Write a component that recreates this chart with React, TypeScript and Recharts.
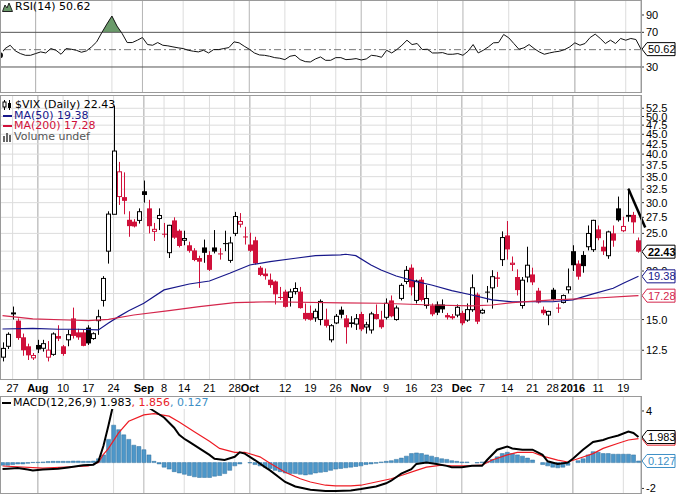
import React from "react";
import {
  ComposedChart, Bar, Line, Area, XAxis, YAxis, CartesianGrid, ReferenceLine,
} from "recharts";

const W = 676;
const PLOT_W = 641;
const AXIS_W = W - PLOT_W;
const RED = "#d0103a";
const NAVY = "#17178a";
const MA200_RED = "#d4264c";
const HIST_BLUE = "#4d97c9";
const VERDANA = "'DejaVu Sans', Verdana, sans-serif";
const ARIAL = "'Liberation Sans', Arial, sans-serif";

// panel layout (pixels)
const RSI_TOP = 0, RSI_H = 93;
const MAIN_TOP = 95, MAIN_H = 285, DATE_H = 16;
const MACD_TOP = 396, MACD_H = 98;

// trading days, Jul 23 2015 .. Jan 22 2016
const julDays = [23, 24, 27, 28, 29, 30, 31];
const augDays = [3, 4, 5, 6, 7, 10, 11, 12, 13, 14, 17, 18, 19, 20, 21, 24, 25, 26, 27, 28, 31];
const sepDays = [1, 2, 3, 4, 8, 9, 10, 11, 14, 15, 16, 17, 18, 21, 22, 23, 24, 25, 28, 29, 30];
const octDays = [1, 2, 5, 6, 7, 8, 9, 12, 13, 14, 15, 16, 19, 20, 21, 22, 23, 26, 27, 28, 29, 30];
const novDays = [2, 3, 4, 5, 6, 9, 10, 11, 12, 13, 16, 17, 18, 19, 20, 23, 24, 25, 27, 30];
const decDays = [1, 2, 3, 4, 7, 8, 9, 10, 11, 14, 15, 16, 17, 18, 21, 22, 23, 24, 28, 29, 30, 31];
const janDays = [4, 5, 6, 7, 8, 11, 12, 13, 14, 15, 19, 20, 21, 22];

const dates = [
  ...julDays.map((d) => `Jul ${d}`),
  ...augDays.map((d) => `Aug ${d}`),
  ...sepDays.map((d) => `Sep ${d}`),
  ...octDays.map((d) => `Oct ${d}`),
  ...novDays.map((d) => `Nov ${d}`),
  ...decDays.map((d) => `Dec ${d}`),
  ...janDays.map((d) => `Jan ${d}`),
];

const tickDates = ["Jul 27", "Aug 3", "Aug 10", "Aug 17", "Aug 24", "Sep 1", "Sep 8", "Sep 14", "Sep 21", "Sep 28",
  "Oct 1", "Oct 12", "Oct 19", "Oct 26", "Nov 2", "Nov 9", "Nov 16", "Nov 23", "Dec 1", "Dec 7", "Dec 14",
  "Dec 21", "Dec 28", "Jan 4", "Jan 11", "Jan 19"];
const tickLabels = ["27", "Aug", "10", "17", "24", "Sep", "8", "14", "21", "28", "Oct", "12", "19", "26", "Nov",
  "9", "16", "23", "Dec", "7", "14", "21", "28", "2016", "11", "19"];
const monthDates = ["Aug 3", "Sep 1", "Oct 1", "Nov 2", "Dec 1", "Jan 4"];

// $VIX daily OHLC
const opens = [
  12.0, 12.8, 15.55, 14.9, 13.5, 12.8, 11.95,
  12.9, 12.65, 12.0, 12.2, 13.6, 12.8, 13.3, 15.1, 13.9, 13.9, 14.3, 13.4, 14.9, 16.8, 22.5, 28.0, 31.1, 31.0, 27.1, 26.8, 27.0,
  32.1, 29.0, 25.3, 27.3, 24.95, 22.3, 27.0, 25.4, 24.0, 23.3, 22.6, 21.6, 23.0, 22.0, 23.0, 22.2, 23.6, 21.3, 25.0, 26.4, 24.55,
  23.4, 24.0, 20.4, 19.7, 19.0, 18.8, 17.15, 17.7, 17.1, 17.7, 17.7, 15.6, 15.6, 15.15, 15.0, 15.0, 13.3, 14.7, 15.9, 15.1, 14.75, 14.6,
  15.5, 14.35, 14.1, 15.5, 15.0, 15.2, 16.8, 15.0, 17.0, 18.8, 20.4, 16.8, 19.0, 16.3, 16.3, 16.4, 16.4, 15.4, 15.3, 15.4,
  15.6, 14.95, 15.9, 17.4, 15.6, 17.7, 18.1, 19.25, 21.4, 24.7, 20.8, 19.3, 16.3, 19.3, 19.6, 17.8, 15.9, 15.4, 17.9, 16.1, 16.6, 17.9,
  22.5, 20.9, 22.0, 23.1, 22.7, 25.6, 23.1, 21.9, 25.0, 29.0, 25.4, 27.9, 27.9, 24.0,
];
const highs = [
  13.1, 13.9, 16.2, 15.1, 13.8, 13.0, 12.3,
  13.3, 13.3, 13.2, 13.9, 14.5, 12.9, 14.1, 16.1, 14.2, 14.1, 14.5, 13.9, 15.9, 19.4, 28.5, 53.3, 38.2, 35.9, 28.5, 27.2, 29.0,
  34.2, 30.5, 26.6, 29.0, 26.6, 26.3, 27.5, 25.6, 25.4, 23.8, 22.9, 21.9, 24.1, 22.5, 25.5, 22.9, 25.4, 24.5, 28.4, 28.2, 26.0,
  25.1, 24.5, 20.6, 20.3, 19.7, 18.9, 18.2, 17.9, 18.0, 18.7, 18.2, 16.5, 16.3, 16.0, 16.9, 16.0, 14.6, 15.5, 16.2, 15.4, 15.3, 15.5,
  15.7, 14.8, 15.7, 16.4, 15.8, 17.0, 17.3, 16.3, 18.6, 20.6, 20.8, 19.0, 19.3, 18.4, 16.5, 16.7, 16.9, 15.6, 15.5, 16.4,
  15.8, 16.5, 19.6, 17.6, 16.0, 18.3, 20.1, 19.9, 25.3, 26.9, 21.8, 20.2, 19.3, 23.1, 20.4, 18.1, 16.2, 15.8, 18.1, 16.5, 17.4, 20.3,
  23.3, 21.3, 22.5, 26.2, 27.1, 26.2, 24.0, 25.4, 26.2, 31.1, 27.6, 32.6, 28.4, 24.4,
];
const lows = [
  11.7, 12.6, 15.0, 13.3, 12.1, 11.8, 11.8,
  12.3, 12.4, 11.7, 12.1, 13.2, 12.1, 12.8, 13.4, 13.3, 12.8, 12.9, 13.3, 13.7, 16.2, 20.9, 28.0, 29.6, 28.0, 24.5, 25.9, 26.5,
  30.0, 25.0, 23.9, 25.5, 24.4, 21.6, 24.2, 23.0, 23.3, 22.3, 21.2, 18.1, 21.0, 20.0, 22.2, 21.4, 22.5, 21.0, 24.6, 25.9, 23.4,
  22.4, 20.8, 19.4, 19.0, 18.1, 16.4, 16.85, 16.1, 16.2, 17.4, 16.0, 14.9, 14.9, 14.8, 14.5, 14.3, 13.1, 14.6, 15.1, 13.0, 14.3, 14.1,
  14.0, 13.8, 13.8, 15.0, 14.2, 15.0, 15.2, 14.9, 16.8, 18.5, 17.3, 16.5, 16.7, 16.0, 15.3, 15.4, 15.6, 15.0, 15.0, 15.2,
  14.5, 14.8, 15.7, 14.6, 15.5, 16.6, 16.0, 18.2, 20.6, 21.4, 20.0, 17.3, 16.0, 18.7, 18.4, 16.5, 15.4, 14.5, 16.8, 15.6, 16.5, 17.5,
  20.0, 19.0, 19.8, 22.6, 22.4, 24.0, 22.0, 21.5, 23.1, 26.8, 25.2, 26.8, 25.0, 22.3,
];
const closes = [
  12.64, 13.74, 15.6, 13.44, 12.5, 12.13, 12.12,
  12.56, 13.0, 12.51, 13.77, 13.39, 12.23, 13.71, 13.61, 13.49, 12.83, 13.02, 13.79, 15.25, 19.14, 28.03, 40.74, 36.02, 30.32, 26.1, 26.05, 28.43,
  31.4, 26.09, 25.61, 27.8, 24.9, 26.23, 24.37, 23.2, 24.25, 22.54, 21.35, 21.14, 22.28, 20.14, 22.44, 22.13, 23.47, 23.62, 27.63, 26.83, 24.5,
  22.55, 20.94, 19.54, 19.4, 18.4, 17.42, 17.08, 16.17, 17.67, 18.03, 16.05, 15.05, 14.98, 15.75, 16.7, 14.45, 14.46, 15.29, 15.43, 14.33, 14.61, 15.07,
  14.15, 14.54, 15.51, 15.05, 14.33, 16.52, 15.29, 16.06, 18.37, 20.08, 18.16, 18.84, 16.85, 16.99, 15.47, 15.62, 15.93, 15.19, 15.12, 16.13,
  14.67, 15.91, 18.11, 14.81, 15.84, 17.6, 19.34, 19.1, 24.39, 22.73, 20.95, 17.86, 18.94, 20.7, 18.7, 16.6, 15.57, 15.74, 16.91, 16.08, 17.29, 18.21,
  20.7, 19.34, 20.59, 24.99, 27.01, 24.3, 22.47, 25.22, 23.95, 27.02, 26.05, 27.59, 26.69, 22.43,
];

// moving averages, read at points along the lines
const ma50Dates = ["Jul 23", "Jul 31", "Aug 7", "Aug 13", "Aug 19", "Aug 21", "Aug 25", "Aug 27", "Sep 1", "Sep 8",
  "Sep 15", "Sep 21", "Sep 25", "Oct 1", "Oct 7", "Oct 14", "Oct 20", "Oct 27", "Oct 28", "Oct 30", "Nov 4", "Nov 6",
  "Nov 11", "Nov 17", "Nov 20", "Nov 27", "Dec 3", "Dec 9", "Dec 15", "Dec 28", "Jan 4", "Jan 8", "Jan 14", "Jan 19", "Jan 22"];
const ma50Values = [14.18, 14.24, 14.16, 14.16, 14.1, 14.7, 15.26, 15.81, 16.52, 17.88,
  18.52, 18.85, 19.73, 20.73, 21.14, 21.57, 21.91, 22.0, 22.09, 21.91, 20.73, 20.12,
  19.42, 18.78, 18.41, 17.8, 17.35, 16.85, 16.67, 16.67, 16.85, 17.46, 18.06, 18.6, 19.38];
const ma200Dates = ["Jul 23", "Jul 31", "Aug 11", "Aug 17", "Aug 21", "Aug 28", "Sep 9", "Sep 17", "Sep 28", "Oct 7",
  "Oct 27", "Nov 6", "Nov 20", "Dec 3", "Dec 9", "Dec 15", "Dec 28", "Jan 8", "Jan 21", "Jan 22"];
const ma200Values = [15.35, 15.05, 14.96, 14.9, 15.02, 15.41, 15.81, 16.19, 16.58, 16.67,
  16.55, 16.52, 16.35, 16.26, 16.35, 16.58, 16.85, 17.02, 17.25, 17.28];

// RSI(14)
const rsi = [
  43.5, 51.3, 55.1, 48.6, 45.5, 43.5, 43.5,
  45.5, 47.4, 46.2, 51.3, 49.3, 44.7, 51.3, 50.5, 49.3, 47.0, 48.6, 53.2, 59.0, 69.5, 79.5, 88.8, 77.2, 68.7, 58.2, 58.2, 60.9,
  64.0, 55.9, 55.1, 58.2, 55.1, 54.4, 53.2, 52.1, 51.3, 49.3, 48.2, 47.4, 49.3, 46.2, 50.1, 50.1, 51.3, 52.4, 59.0, 57.9, 54.0,
  50.5, 46.2, 43.9, 43.5, 42.4, 40.8, 40.1, 38.5, 42.4, 43.5, 38.5, 36.2, 35.8, 39.3, 41.6, 37.7, 37.7, 40.8, 40.8, 38.5, 38.9, 39.7,
  38.1, 39.3, 43.5, 42.8, 41.2, 49.3, 46.2, 50.1, 55.1, 60.9, 55.9, 57.1, 50.1, 50.5, 46.2, 46.2, 46.6, 44.7, 44.7, 45.5,
  43.5, 48.2, 55.9, 46.2, 49.3, 53.2, 57.9, 58.2, 67.5, 63.7, 57.1, 50.5, 52.1, 55.9, 51.3, 47.4, 44.7, 46.2, 47.4, 48.2, 50.1, 53.2,
  57.9, 55.1, 57.1, 64.0, 67.9, 62.9, 57.1, 60.9, 57.1, 62.9, 60.9, 62.9, 61.7, 50.62,
];

// MACD(12,26,9)
const macdDates = ["Jul 23", "Jul 24", "Jul 28", "Jul 30", "Jul 31", "Aug 4", "Aug 7", "Aug 11", "Aug 14", "Aug 18",
  "Aug 19", "Aug 20", "Aug 21", "Aug 24", "Aug 25", "Aug 26", "Aug 27", "Aug 28", "Aug 31", "Sep 1", "Sep 3", "Sep 8",
  "Sep 10", "Sep 11", "Sep 14", "Sep 15", "Sep 17", "Sep 21", "Sep 22", "Sep 24", "Sep 28", "Sep 29", "Sep 30", "Oct 2",
  "Oct 6", "Oct 7", "Oct 12", "Oct 14", "Oct 19", "Oct 22", "Oct 26", "Oct 29", "Nov 2", "Nov 5", "Nov 9", "Nov 10",
  "Nov 12", "Nov 16", "Nov 17", "Nov 19", "Nov 23", "Nov 25", "Nov 27", "Dec 1", "Dec 3", "Dec 7", "Dec 8", "Dec 10",
  "Dec 14", "Dec 15", "Dec 17", "Dec 21", "Dec 23", "Dec 24", "Dec 29", "Dec 31", "Jan 4", "Jan 6", "Jan 8", "Jan 12",
  "Jan 13", "Jan 15", "Jan 20", "Jan 21", "Jan 22"];
const macdValues = [-0.5, -0.47, -0.42, -0.53, -0.6, -0.53, -0.47, -0.37, -0.21, -0.16,
  0.1, 1.3, 2.9, 4.6, 5.2, 5.4, 5.3, 5.1, 4.9, 4.5, 4.0, 3.5,
  2.7, 2.15, 1.85, 1.6, 1.1, 0.6, 0.3, 0.2, 0.45, 0.8, 0.7, 0.2,
  -0.35, -0.6, -1.5, -1.85, -2.1, -2.2, -2.2, -2.15, -2.05, -1.85, -1.6, -1.4,
  -0.85, -0.5, -0.1, 0.0, -0.1, -0.25, -0.35, -0.35, -0.25, -0.25, 0.2, 1.0,
  1.25, 1.1, 1.0, 1.0, 0.6, 0.1, -0.1, 0.0, 0.3, 1.0, 1.6, 1.75,
  1.9, 2.1, 2.4, 2.3, 1.983];
const signalDates = ["Jul 23", "Aug 4", "Aug 17", "Aug 19", "Aug 20", "Aug 21", "Aug 25", "Aug 27", "Sep 1", "Sep 3",
  "Sep 9", "Sep 11", "Sep 16", "Sep 21", "Sep 23", "Sep 28", "Sep 30", "Oct 5", "Oct 7", "Oct 12", "Oct 15", "Oct 19",
  "Oct 22", "Oct 26", "Oct 29", "Nov 2", "Nov 5", "Nov 10", "Nov 12", "Nov 17", "Nov 19", "Nov 24", "Nov 27", "Dec 2",
  "Dec 7", "Dec 9", "Dec 14", "Dec 16", "Dec 21", "Dec 23", "Dec 29", "Dec 31", "Jan 5", "Jan 8", "Jan 12", "Jan 15",
  "Jan 20", "Jan 22"];
const signalValues = [-0.26, -0.42, -0.26, 0.0, 0.65, 1.1, 2.3, 3.2, 3.7, 3.8,
  3.6, 3.15, 2.4, 1.65, 1.1, 0.8, 0.8, 0.45, -0.05, -0.75, -1.25, -1.5,
  -1.75, -1.8, -1.8, -1.75, -1.5, -1.25, -1.0, -0.6, -0.35, -0.2, -0.25, -0.25,
  -0.2, 0.2, 0.6, 0.8, 0.8, 0.5, 0.2, 0.05, 0.3, 0.7, 1.1, 1.5,
  1.75, 1.856];
const histValues = [
  -0.2, -0.2, -0.15, -0.1, -0.1, -0.05, 0.02,
  0.03, 0.05, 0.08, 0.1, 0.1, 0.1, 0.1, 0.12, 0.12, 0.1, 0.1, 0.12, 0.3, 0.6, 1.8, 2.9, 2.55, 2.15, 1.8, 1.35, 1.25,
  1.0, 0.6, 0.1, -0.1, -0.35, -0.5, -0.7, -0.8, -0.9, -1.0, -1.1, -1.15, -1.15, -1.15, -1.05, -1.0, -0.85, -0.6, -0.25, -0.1, 0.0,
  -0.02, -0.15, -0.25, -0.35, -0.45, -0.6, -0.7, -0.8, -0.85, -0.85, -0.9, -0.95, -0.9, -0.8, -0.75, -0.7, -0.6, -0.5, -0.45, -0.4, -0.35, -0.3,
  -0.25, -0.15, -0.1, -0.05, 0.05, 0.1, 0.15, 0.25, 0.35, 0.5, 0.7, 0.75, 0.7, 0.6, 0.5, 0.4, 0.3, 0.25, 0.15, 0.1,
  0.05, 0.05, 0.0, -0.02, 0.05, 0.1, 0.25, 0.45, 0.7, 0.8, 0.7, 0.6, 0.5, 0.35, 0.2, 0.0, -0.15, -0.25, -0.35, -0.4, -0.35, -0.2,
  0.0, 0.15, 0.3, 0.6, 0.85, 0.8, 0.7, 0.7, 0.65, 0.65, 0.65, 0.65, 0.6, 0.127,
];

const priceTicks = [12.5, 15, 17.5, 20, 22.5, 25, 27.5, 30, 32.5, 35, 37.5, 40, 42.5, 45, 47.5, 50, 52.5];
const rsiTicks = [30, 70, 90];
const macdTicks = [4, -2];

type Mark = { value: number; color: string; bold?: boolean };
const priceMarks: Mark[] = [
  { value: 17.28, color: MA200_RED },
  { value: 19.38, color: NAVY },
  { value: 22.43, color: "#000", bold: true },
];
const rsiMarks: Mark[] = [{ value: 50.62, color: "#000" }];
const macdMarks: Mark[] = [
  { value: 1.856, color: "#e8222a" },
  { value: 1.983, color: "#000" },
  { value: 0.127, color: "#3d8fc6" },
];

const PRICE_MIN = 10.48, PRICE_MAX = 56.8;
const RSI_MIN = 0, RSI_MAX = 107.3;
const MACD_MIN = -2.43, MACD_MAX = 5.16;

const rows = dates.map((date, i) => {
  const a = ma50Dates.indexOf(date);
  const b = ma200Dates.indexOf(date);
  const m = macdDates.indexOf(date);
  const s = signalDates.indexOf(date);
  return {
    date,
    open: opens[i],
    high: highs[i],
    low: lows[i],
    close: closes[i],
    prevClose: i > 0 ? closes[i - 1] : null,
    range: [lows[i], highs[i]],
    ma50: a >= 0 ? ma50Values[a] : null,
    ma200: b >= 0 ? ma200Values[b] : null,
    rsi: rsi[i],
    macd: m >= 0 ? macdValues[m] : null,
    signal: s >= 0 ? signalValues[s] : null,
    hist: histValues[i],
  };
});

const Candle = (props: any) => {
  const { x, y, width, height, payload } = props;
  if (!payload || height == null || isNaN(y)) return null;
  const { open, close, high, low, prevClose } = payload;
  const top = Math.min(y, y + height);
  const h = Math.abs(height);
  const span = Math.log(high) - Math.log(low);
  const py = (v: number) => top + (span > 0 ? (h * (Math.log(high) - Math.log(v))) / span : 0);
  const color = prevClose != null && close < prevClose ? RED : "#000";
  const cx = Math.round(x + width / 2) + 0.5;
  const hollow = close > open;
  const yo = py(open);
  const yc = py(close);
  const bTop = Math.min(yo, yc);
  const bH = Math.max(Math.abs(yc - yo), 1);
  return (
    <g>
      <line x1={cx} x2={cx} y1={top} y2={top + h} stroke={color} strokeWidth={1} />
      {hollow ? (
        <rect x={cx - 2} y={bTop} width={4} height={bH} fill="#fff" stroke={color} strokeWidth={1} />
      ) : (
        <rect x={cx - 2.5} y={bTop} width={5} height={bH} fill={color} />
      )}
    </g>
  );
};

const makeYTick = (marks: Mark[], fmt: (v: number) => string) => (props: any) => {
  const { x, y, payload } = props;
  const v = payload.value;
  const m = marks.find((k) => k.value === v);
  if (m) {
    const l = x - 4;
    return (
      <g>
        <polygon
          points={`${l},${y} ${l + 5},${y - 6.5} ${W - 1},${y - 6.5} ${W - 1},${y + 6.5} ${l + 5},${y + 6.5}`}
          fill="#fff" stroke={m.color} strokeWidth={1}
        />
        <text x={l + 6} y={y} dy={4} fill={m.color} fontSize={11} fontWeight={m.bold ? "bold" : "normal"}
          fontFamily={ARIAL}>{String(v)}</text>
      </g>
    );
  }
  return (
    <text x={x} y={y} dy={4} fill="#000" fontSize={11} fontFamily={ARIAL}>{fmt(v)}</text>
  );
};

const DateTick = (props: any) => {
  const { x, y, payload } = props;
  const k = tickDates.indexOf(payload.value);
  const label = k >= 0 ? tickLabels[k] : "";
  const bold = monthDates.includes(payload.value);
  return (
    <text x={x} y={y} dy={12} textAnchor="middle" fill="#000" fontSize={11}
      fontWeight={bold ? "bold" : "normal"} fontFamily={ARIAL}>{label}</text>
  );
};

const frame = (top: number, height: number): React.CSSProperties => ({
  position: "absolute", left: 0, top, width: PLOT_W + 1, height, boxSizing: "border-box",
  border: "1px solid #9a9a9a", pointerEvents: "none",
});

export default function App() {
  const rsi70 = RSI_H * (1 - (70 - RSI_MIN) / (RSI_MAX - RSI_MIN));
  return (
    <div style={{ position: "relative", width: W, height: 495, background: "#fff", overflow: "hidden", fontFamily: VERDANA }}>
      <style>{"body{margin:0}"}</style>

      {/* RSI panel */}
      <div style={{ position: "absolute", left: 0, top: RSI_TOP }}>
        <ComposedChart width={W} height={RSI_H} data={rows} margin={{ top: 0, right: 0, bottom: 0, left: 0 }}>
          <defs>
            <linearGradient id="rsiOver" x1="0" y1="0" x2="0" y2={RSI_H} gradientUnits="userSpaceOnUse">
              <stop offset={0} stopColor="#6a9a6a" />
              <stop offset={rsi70 / RSI_H} stopColor="#6a9a6a" />
              <stop offset={rsi70 / RSI_H + 0.001} stopColor="#6a9a6a" stopOpacity={0} />
              <stop offset={1} stopColor="#6a9a6a" stopOpacity={0} />
            </linearGradient>
          </defs>
          <XAxis dataKey="date" type="category" ticks={tickDates} hide />
          <XAxis dataKey="date" type="category" xAxisId="m" ticks={monthDates} hide />
          <YAxis yAxisId="r" orientation="right" width={AXIS_W} domain={[RSI_MIN, RSI_MAX]} allowDataOverflow
            ticks={[...rsiTicks, ...rsiMarks.map((m) => m.value)]} interval={0}
            axisLine={false} tickSize={3} tickMargin={2} tickLine={{ stroke: "#333" }}
            tick={makeYTick(rsiMarks, (v) => String(v))} />
          <CartesianGrid yAxisId="r" horizontal={false} stroke="#dcdcdc" />
          <CartesianGrid yAxisId="r" xAxisId="m" horizontal={false} stroke="#b4b4b4" />
          <ReferenceLine yAxisId="r" y={70} stroke="#555" />
          <ReferenceLine yAxisId="r" y={30} stroke="#555" />
          <ReferenceLine yAxisId="r" y={50} stroke="#777" strokeDasharray="7 3 2 3" />
          <Area yAxisId="r" dataKey="rsi" baseValue={70} stroke="none" fill="url(#rsiOver)" fillOpacity={1}
            isAnimationActive={false} />
          <Line yAxisId="r" dataKey="rsi" stroke="#111" strokeWidth={1} dot={false} isAnimationActive={false} />
        </ComposedChart>
      </div>
      <div style={frame(RSI_TOP, RSI_H)} />
      <div style={{ position: "absolute", left: 2, top: 1, fontSize: 11, lineHeight: "12px", display: "flex", alignItems: "center" }}>
        <svg width={11} height={10}>
          <polygon points="0.5,9.5 3,3 5,6 7,1 10.5,9.5" fill="#6a9a6a" stroke="#222" strokeWidth={1} />
        </svg>
        <span style={{ marginLeft: 2 }}>RSI(14) 50.62</span>
      </div>

      {/* price panel */}
      <div style={{ position: "absolute", left: 0, top: MAIN_TOP }}>
        <ComposedChart width={W} height={MAIN_H + DATE_H} data={rows} margin={{ top: 0, right: 0, bottom: 0, left: 0 }}>
          <XAxis dataKey="date" type="category" ticks={tickDates} interval={0} height={DATE_H}
            axisLine={false} tickLine={false} tickSize={0} tickMargin={0} tick={<DateTick />} />
          <XAxis dataKey="date" type="category" xAxisId="m" ticks={monthDates} hide />
          <YAxis yAxisId="p" orientation="right" width={AXIS_W} scale="log" domain={[PRICE_MIN, PRICE_MAX]}
            allowDataOverflow ticks={[...priceTicks.filter((t) => t !== 17.5 && t !== 22.5), ...priceMarks.map((m) => m.value)]}
            interval={0} axisLine={false} tickSize={3} tickMargin={2} tickLine={{ stroke: "#333" }}
            tick={makeYTick(priceMarks, (v) => v.toFixed(1))} />
          <CartesianGrid yAxisId="p" horizontal={false} stroke="#dcdcdc" />
          <CartesianGrid yAxisId="p" xAxisId="m" horizontal={false} stroke="#b4b4b4" />
          {priceTicks.map((t) => (
            <ReferenceLine key={t} yAxisId="p" y={t} stroke="#dcdcdc" zIndex={-1} />
          ))}
          <Bar yAxisId="p" dataKey="range" shape={<Candle />} isAnimationActive={false} />
          <Line yAxisId="p" dataKey="ma50" stroke={NAVY} strokeWidth={1.2} dot={false} connectNulls
            isAnimationActive={false} />
          <Line yAxisId="p" dataKey="ma200" stroke={MA200_RED} strokeWidth={1.2} dot={false} connectNulls
            isAnimationActive={false} />
          <ReferenceLine yAxisId="p" ifOverflow="visible"
            segment={[{ x: "Jan 20", y: 32.6 }, { x: "Jan 22", y: 28.4 }]}
            shape={(p: any) => {
              const k = 1.67;
              return (
                <line x1={p.x1} y1={p.y1} x2={p.x1 + (p.x2 - p.x1) * k} y2={p.y1 + (p.y2 - p.y1) * k}
                  stroke="#000" strokeWidth={2.5} />
              );
            }} />
        </ComposedChart>
      </div>
      <div style={frame(MAIN_TOP, MAIN_H)} />
      <div style={{ position: "absolute", left: 2, top: MAIN_TOP + 5, fontSize: 11, lineHeight: "10.6px" }}>
        <div style={{ display: "flex", alignItems: "center" }}>
          <svg width={12} height={10}>
            <line x1={2.5} y1={0} x2={2.5} y2={10} stroke="#000" />
            <rect x={1} y={2} width={3} height={5} fill="#fff" stroke="#000" />
            <line x1={7.5} y1={0} x2={7.5} y2={10} stroke="#000" />
            <rect x={6} y={3} width={3} height={5} fill="#000" />
          </svg>
          <span style={{ marginLeft: 1 }}>$VIX (Daily) 22.43</span>
        </div>
        <div style={{ display: "flex", alignItems: "center", color: NAVY }}>
          <svg width={12} height={10}><rect x={1} y={4} width={9} height={2} fill={NAVY} /></svg>
          <span>MA(50) 19.38</span>
        </div>
        <div style={{ display: "flex", alignItems: "center", color: RED }}>
          <svg width={12} height={10}><rect x={1} y={4} width={9} height={2} fill={RED} /></svg>
          <span>MA(200) 17.28</span>
        </div>
        <div style={{ display: "flex", alignItems: "center", color: "#555" }}>
          <svg width={12} height={10}>
            <rect x={1} y={4} width={2} height={6} fill="#666" />
            <rect x={4} y={1} width={2} height={9} fill="#666" />
            <rect x={7} y={3} width={2} height={7} fill="#666" />
          </svg>
          <span>Volume undef</span>
        </div>
      </div>

      {/* MACD panel */}
      <div style={{ position: "absolute", left: 0, top: MACD_TOP }}>
        <ComposedChart width={W} height={MACD_H} data={rows} margin={{ top: 0, right: 0, bottom: 0, left: 0 }}
          barCategoryGap="12%">
          <XAxis dataKey="date" type="category" ticks={tickDates} hide />
          <XAxis dataKey="date" type="category" xAxisId="m" ticks={monthDates} hide />
          <YAxis yAxisId="c" orientation="right" width={AXIS_W} domain={[MACD_MIN, MACD_MAX]} allowDataOverflow
            ticks={[...macdTicks, ...macdMarks.map((m) => m.value)]} interval={0}
            axisLine={false} tickSize={3} tickMargin={2} tickLine={{ stroke: "#333" }}
            tick={makeYTick(macdMarks, (v) => String(v))} />
          <CartesianGrid yAxisId="c" horizontal={false} stroke="#dcdcdc" />
          <CartesianGrid yAxisId="c" xAxisId="m" horizontal={false} stroke="#b4b4b4" />
          <Bar yAxisId="c" dataKey="hist" fill={HIST_BLUE} stroke="#2f6f9c" strokeWidth={0.5}
            isAnimationActive={false} />
          <Line yAxisId="c" dataKey="signal" stroke="#ee1c24" strokeWidth={1.2} dot={false} connectNulls
            isAnimationActive={false} />
          <Line yAxisId="c" dataKey="macd" stroke="#000" strokeWidth={2} dot={false} connectNulls
            isAnimationActive={false} />
        </ComposedChart>
      </div>
      <div style={frame(MACD_TOP, MACD_H)} />
      <div style={{ position: "absolute", left: 1, top: MACD_TOP + 1, fontSize: 11, lineHeight: "12px",
        display: "flex", alignItems: "center", background: "#fff", paddingRight: 3 }}>
        <svg width={12} height={10}><rect x={1} y={4} width={9} height={2} fill="#000" /></svg>
        <span>MACD(12,26,9) 1.983</span>
        <span style={{ color: "#e8222a" }}>, 1.856</span>
        <span style={{ color: "#3d8fc6" }}>, 0.127</span>
      </div>
    </div>
  );
}
